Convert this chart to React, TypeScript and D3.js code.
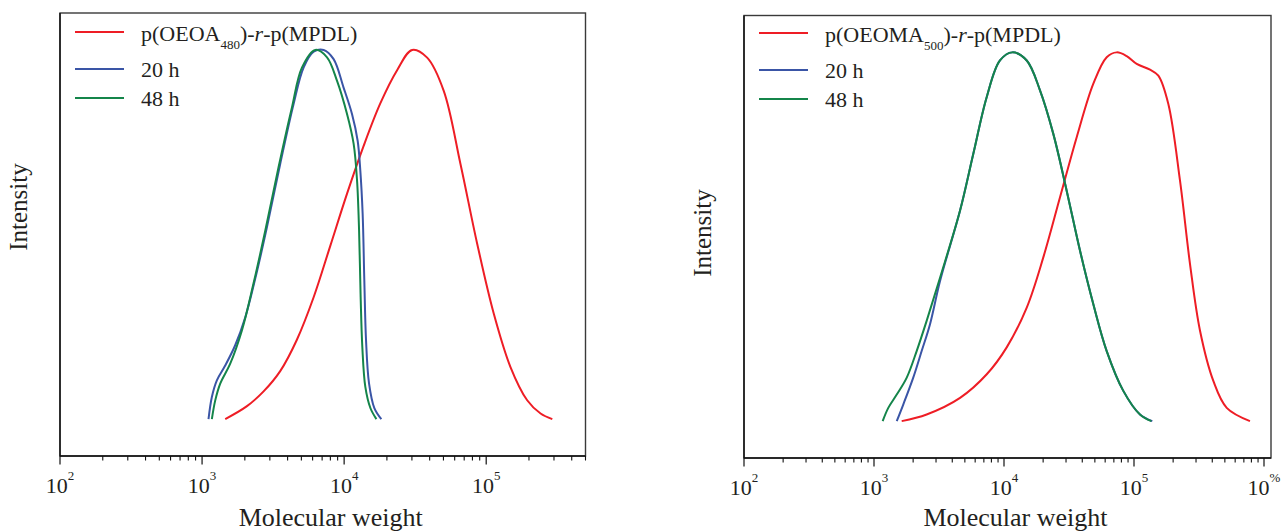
import React from "react";
import * as d3 from "d3";

// GPC traces: molecular weight (g/mol) and normalised intensity
const oeoaMw = [1456, 2070, 2710, 3548, 4650, 6100, 8000, 10470, 13720, 17970, 23600, 30100, 38400, 50250, 65900, 86400, 113000, 148200, 194300, 241400, 292000];
const oeoaInt = [0, 0.035, 0.075, 0.13, 0.215, 0.33, 0.47, 0.61, 0.74, 0.855, 0.945, 1.0, 0.979, 0.889, 0.691, 0.475, 0.286, 0.141, 0.051, 0.015, 0];

const oeoa20Mw = [1110, 1172, 1271, 1455, 1711, 2012, 2366, 2863, 3548, 4404, 5183, 6100, 7177, 8433, 9911, 11370, 12450, 13000, 13500, 13870, 14260, 14970, 16320, 18280];
const oeoa20Int = [0, 0.06, 0.105, 0.145, 0.2, 0.275, 0.38, 0.52, 0.691, 0.853, 0.952, 0.995, 1.0, 0.975, 0.898, 0.826, 0.754, 0.673, 0.556, 0.376, 0.214, 0.097, 0.03, 0];

const oeoa48Mw = [1172, 1237, 1342, 1578, 1907, 2301, 2785, 3454, 4292, 5047, 6266, 7578, 8916, 10470, 11660, 12330, 12740, 13070, 13430, 14100, 15300, 16870];
const oeoa48Int = [0, 0.05, 0.096, 0.15, 0.24, 0.367, 0.51, 0.682, 0.844, 0.952, 1.0, 0.98, 0.916, 0.827, 0.746, 0.646, 0.511, 0.33, 0.195, 0.087, 0.03, 0];

const oeomaMw = [1633, 2541, 4592, 7367, 10490, 14960, 20060, 26970, 36240, 48670, 61660, 73620, 87880, 104900, 132800, 153900, 183700, 225900, 269700, 322000, 407600, 516700, 779800];
const oeomaInt = [0, 0.018, 0.063, 0.127, 0.2, 0.308, 0.444, 0.607, 0.77, 0.915, 0.987, 1.0, 0.99, 0.969, 0.953, 0.937, 0.86, 0.652, 0.426, 0.245, 0.109, 0.036, 0];

const oeoma20Mw = [1496, 1679, 2004, 2326, 2697, 3221, 4592, 5807, 7367, 9311, 11580, 14960, 18920, 23950, 30340, 38450, 48670, 61660, 82760, 111200, 138300];
const oeoma20Int = [0, 0.045, 0.118, 0.19, 0.263, 0.38, 0.571, 0.725, 0.879, 0.978, 1.0, 0.978, 0.897, 0.779, 0.625, 0.462, 0.317, 0.19, 0.082, 0.018, 0];

const oeoma48Mw = [1166, 1288, 1496, 1786, 2129, 2541, 3221, 4592, 5807, 7367, 9311, 11580, 14960, 18920, 23950, 30340, 38450, 48670, 61660, 82760, 111200, 136000];
const oeoma48Int = [0, 0.036, 0.072, 0.118, 0.19, 0.272, 0.389, 0.571, 0.725, 0.879, 0.978, 1.0, 0.978, 0.897, 0.779, 0.625, 0.462, 0.317, 0.19, 0.082, 0.018, 0];

const legendTimes = ["20 h", "48 h"];
const leftExps = ["2", "3", "4", "5"];
const rightExps = ["2", "3", "4", "5", "%"];

const FONT = "'Liberation Serif', 'Times New Roman', serif";
const INK = "#231f20";
const RED = "#ee1d25";
const BLUE = "#3a55a6";
const GREEN = "#14854a";

type Series = { mw: number[]; int: number[]; color: string };

type PanelProps = {
  x0: number;
  x1: number;
  y0: number;
  y1: number;
  maxMw: number;
  series: Series[];
  legendY: number[];
  name: string;
  sub: string;
  exps: string[];
  titleX: number;
  titleY: number;
};

function Panel({ x0, x1, y0, y1, maxMw, series, legendY, name, sub, exps, titleX, titleY }: PanelProps) {
  const x = d3.scaleLog().domain([100, maxMw]).range([x0, x1]);
  const y = d3.scaleLinear().domain([-0.1, 1.1]).range([y1, y0]);
  const line = d3.line().curve(d3.curveCatmullRom.alpha(0.5));

  const majors = exps.map((_, i) => Math.pow(10, i + 2));
  const minors = d3
    .range(2, 6)
    .flatMap((p) => d3.range(2, 10).map((m) => m * Math.pow(10, p)))
    .filter((v) => v <= maxMw * 1.0001);

  const pathFor = (s: Series) => {
    const pts: [number, number][] = s.mw.map((m, i) => [x(m), y(s.int[i])]);
    return line(pts) || "";
  };

  const colors = [RED, BLUE, GREEN];
  const lx0 = x0 + 15;
  const lx1 = x0 + 64;
  const tx = x0 + 81;

  return (
    <g>
      {/* frame */}
      <rect x={x0} y={y0} width={x1 - x0} height={y1 - y0} fill="none" stroke="#3a3a3a" strokeWidth={1.4} />
      <line x1={x0} x2={x1} y1={y1} y2={y1} stroke="#111" strokeWidth={1.6} />
      <line x1={x0} x2={x0} y1={y0} y2={y1} stroke="#111" strokeWidth={1.4} />

      {/* ticks */}
      {minors.map((v) => (
        <line key={"m" + v} x1={x(v)} x2={x(v)} y1={y1} y2={y1 + 4.5} stroke="#111" strokeWidth={1.1} />
      ))}
      {majors.map((v, i) => (
        <g key={"M" + v}>
          <line x1={x(v)} x2={x(v)} y1={y1} y2={y1 + 8.5} stroke="#111" strokeWidth={1.2} />
          <text x={x(v)} y={y1 + 37} textAnchor="middle" fontFamily={FONT} fontSize={22} fill={INK}>
            10
            <tspan dy={-13} fontSize={13}>
              {exps[i]}
            </tspan>
          </text>
        </g>
      ))}

      {/* curves */}
      {series.map((s, i) => (
        <path key={i} d={pathFor(s)} fill="none" stroke={s.color} strokeWidth={2} strokeLinejoin="round" />
      ))}

      {/* legend */}
      {legendY.map((ly, i) => (
        <line key={"l" + i} x1={lx0} x2={lx1} y1={ly} y2={ly} stroke={colors[i]} strokeWidth={2} />
      ))}
      <text x={tx} y={legendY[0] + 9} fontFamily={FONT} fontSize={22} fill={INK}>
        {name}
        <tspan dy={8} fontSize={13}>
          {sub}
        </tspan>
        <tspan dy={-8}>)-</tspan>
        <tspan fontStyle="italic">r</tspan>
        <tspan>-p(MPDL)</tspan>
      </text>
      {legendTimes.map((t, i) => (
        <text key={t} x={tx} y={legendY[i + 1] + 8} fontFamily={FONT} fontSize={22} fill={INK}>
          {t}
        </text>
      ))}

      {/* axis titles */}
      <text x={(x0 + x1) / 2 + 8} y={526} textAnchor="middle" fontFamily={FONT} fontSize={26} fill={INK}>
        Molecular weight
      </text>
      <text
        transform={`translate(${titleX},${titleY}) rotate(-90)`}
        textAnchor="middle"
        fontFamily={FONT}
        fontSize={25}
        fill={INK}
      >
        Intensity
      </text>
    </g>
  );
}

export default function App() {
  const leftSeries: Series[] = [
    { mw: oeoaMw, int: oeoaInt, color: RED },
    { mw: oeoa20Mw, int: oeoa20Int, color: BLUE },
    { mw: oeoa48Mw, int: oeoa48Int, color: GREEN },
  ];
  const rightSeries: Series[] = [
    { mw: oeomaMw, int: oeomaInt, color: RED },
    { mw: oeoma20Mw, int: oeoma20Int, color: BLUE },
    { mw: oeoma48Mw, int: oeoma48Int, color: GREEN },
  ];

  return (
    <svg
      width={1285}
      height={531}
      style={{ position: "absolute", left: 0, top: 0, background: "#fff" }}
    >
      <Panel
        x0={60}
        x1={585.5}
        y0={13}
        y1={456}
        maxMw={5e5}
        series={leftSeries}
        legendY={[32, 69, 98]}
        name="p(OEOA"
        sub="480"
        exps={leftExps}
        titleX={27}
        titleY={207}
      />
      <Panel
        x0={744}
        x1={1271}
        y0={15.5}
        y1={458}
        maxMw={1.132e6}
        series={rightSeries}
        legendY={[33, 70, 99]}
        name="p(OEOMA"
        sub="500"
        exps={rightExps}
        titleX={711}
        titleY={233}
      />
    </svg>
  );
}
